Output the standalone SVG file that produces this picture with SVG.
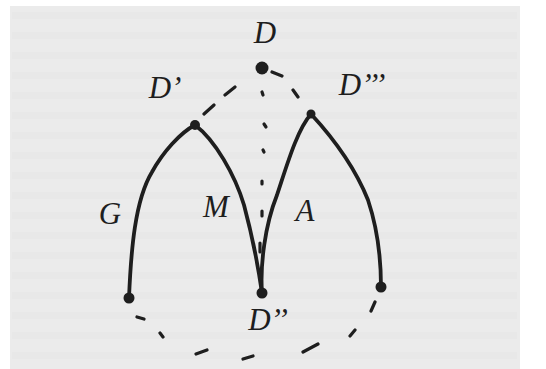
<svg xmlns="http://www.w3.org/2000/svg" width="546" height="369" viewBox="0 0 546 369">
<style>
.lbl{font-family:"Liberation Serif","DejaVu Serif",serif;font-style:italic;font-size:31px;fill:#1e1e1e;text-anchor:middle}
.arc{fill:none;stroke:#1e1e1e;stroke-width:3.8;stroke-linecap:round;stroke-linejoin:round}
.dash{fill:none;stroke:#1e1e1e;stroke-width:3.2;stroke-linecap:round}
.dot{fill:#1e1e1e}
.band{fill:#e3e3e3}
</style>
<rect x="0" y="0" width="546" height="369" fill="#ffffff"/>
<rect x="10" y="6" width="510" height="363" fill="#ebebeb"/>
<g opacity="0.3">
<rect class="band" x="12" y="12" width="505" height="7"/>
<rect class="band" x="12" y="32" width="505" height="7"/>
<rect class="band" x="12" y="52" width="505" height="7"/>
<rect class="band" x="12" y="72" width="505" height="7"/>
<rect class="band" x="12" y="92" width="505" height="7"/>
<rect class="band" x="12" y="112" width="505" height="7"/>
<rect class="band" x="12" y="132" width="505" height="7"/>
<rect class="band" x="12" y="152" width="505" height="7"/>
<rect class="band" x="12" y="172" width="505" height="7"/>
<rect class="band" x="12" y="192" width="505" height="7"/>
<rect class="band" x="12" y="212" width="505" height="7"/>
<rect class="band" x="12" y="232" width="505" height="7"/>
<rect class="band" x="12" y="252" width="505" height="7"/>
<rect class="band" x="12" y="272" width="505" height="7"/>
<rect class="band" x="12" y="292" width="505" height="7"/>
<rect class="band" x="12" y="312" width="505" height="7"/>
<rect class="band" x="12" y="332" width="505" height="7"/>
<rect class="band" x="12" y="352" width="505" height="7"/>
</g>
<g id="connectors">
<path class="arc" d="M129,298 C131,250 135,200 152,172 C163,152 180,133 195,125"/>
<path class="arc" d="M195,125 C215,140 235,175 244,205 C252,235 258,265 262,293"/>
<path class="arc" d="M262,293 C260,265 265,225 277,195 C287,165 297,130 311,114"/>
<path class="arc" d="M311,114 C335,140 356,170 368,200 C378,230 381,260 381,287"/>
<path class="dash" d="M204,114 L214,105 M225,95 L235,87 M272,72 L282,76 M293,90 L298,97"/>
<path class="dash" d="M262,92 L263,95 M264,124 L266,127 M263,150 L264,152 M262,181 L262,184 M262,211 L262,216 M260,243 L260,252"/>
<path class="dash" d="M137,317 L144,319 M160,333 L163,337 M196,354 L207,350 M243,359 L253,356 M303,352 L318,344 M350,336 L355,330 M371,311 L375,302"/>
</g>
<g id="node-D"><circle class="dot" cx="262" cy="68" r="6.5"/><text class="lbl" x="265" y="43">D</text></g>
<g id="node-D1"><circle class="dot" cx="195" cy="125" r="5"/><text class="lbl" x="165" y="98">D’</text></g>
<g id="node-D3"><circle class="dot" cx="311" cy="114" r="4.5"/><text class="lbl" x="362" y="95">D’’’</text></g>
<g id="node-G"><circle class="dot" cx="129" cy="298" r="5.5"/><text class="lbl" x="110" y="224">G</text></g>
<g id="node-D2"><circle class="dot" cx="262" cy="293" r="5.5"/><text class="lbl" x="268" y="330">D’’</text></g>
<g id="node-R"><circle class="dot" cx="381" cy="287" r="5.5"/></g>
<g id="label-M"><text class="lbl" x="216" y="217">M</text></g>
<g id="label-A"><text class="lbl" x="305" y="221">A</text></g>
</svg>
